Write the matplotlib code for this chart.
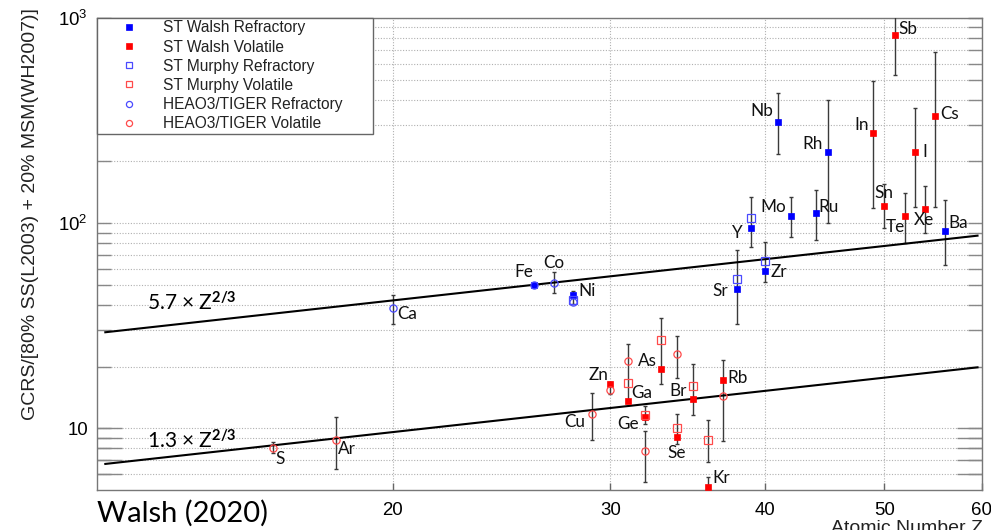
import numpy as np
import matplotlib
matplotlib.use('Agg')
import matplotlib.pyplot as plt
from matplotlib.lines import Line2D
from matplotlib.ticker import FixedLocator, FixedFormatter, NullLocator, NullFormatter

plt.rcParams['font.family'] = ['Liberation Sans', 'DejaVu Sans']
plt.rcParams['mathtext.fontset'] = 'custom'
plt.rcParams['mathtext.rm'] = 'Liberation Sans'
plt.rcParams['mathtext.it'] = 'Liberation Sans:italic'
plt.rcParams['mathtext.bf'] = 'Lato:bold'

nan = np.nan

# ---------------- data ----------------
walsh_ref_Z = [26, 28, 38, 39, 40, 41, 42, 44, 45, 56]
walsh_ref_val = [49.8, 44.5, 47.5, 94.2, 58.5, 312, 108, 111.5, 223, 91.4]
walsh_ref_lo = [nan, 40.5, 32.1, 76.6, nan, 217, 85.7, 82.6, 99.7, 62.4]
walsh_ref_hi = [nan, 46.5, 73.8, 134.4, nan, 430, 134.4, 145, 399, 129.5]

walsh_vol_Z = [30, 31, 32, 33, 34, 35, 36, 37, 49, 50, 51, 52, 53, 54, 55]
walsh_vol_val = [16.5, 13.55, 11.3, 19.35, 9.04, 13.9, 5.2, 17.1, 274, 121.5, 829, 108.2, 221.5, 117, 334]
walsh_vol_lo = [14.7, nan, 10.5, nan, 8.39, nan, 4.9, nan, 118, 94.8, 528, 80.1, 120, 89.1, 119.3]
walsh_vol_hi = [16.8, nan, 12.9, nan, 11.8, nan, 5.8, nan, 494, 154.5, 1400, 140.6, 363, 151.6, 682]

murphy_ref_Z = [28, 38, 39, 40]
murphy_ref_val = [42.0, 53.7, 105.4, 65.2]
murphy_ref_lo = [nan, nan, nan, 51.7]
murphy_ref_hi = [nan, nan, nan, 81.0]

murphy_vol_Z = [31, 32, 33, 34, 35, 36]
murphy_vol_val = [16.6, 11.6, 27.0, 10.0, 16.0, 8.8]
murphy_vol_lo = [nan, nan, 16.5, nan, 11.6, 6.88]
murphy_vol_hi = [nan, nan, 34.6, nan, 20.6, 11.0]

heao_ref_Z = [20, 26, 27, 28]
heao_ref_val = [38.6, 49.8, 51.1, 41.4]
heao_ref_lo = [32.4, nan, 45.4, nan]
heao_ref_hi = [44.5, nan, 57.8, nan]

heao_vol_Z = [16, 18, 29, 30, 31, 32, 34, 37]
heao_vol_val = [7.98, 8.8, 11.76, 15.3, 21.2, 7.78, 23.1, 14.3]
heao_vol_lo = [7.6, 6.33, 8.78, nan, 13.4, 5.45, 17.5, 8.7]
heao_vol_hi = [8.55, 11.3, 14.9, nan, 25.8, 9.74, 28.05, 21.4]

label_names = ['S', 'Ar', 'Ca', 'Fe', 'Co', 'Ni', 'Cu', 'Zn', 'Ga', 'Ge', 'As', 'Se', 'Br', 'Kr', 'Rb',
               'Sr', 'Y', 'Zr', 'Nb', 'Mo', 'Ru', 'Rh', 'In', 'Sn', 'Sb', 'Te', 'I', 'Xe', 'Cs', 'Ba']
label_Z = [16, 18, 20, 26, 27, 28, 29, 30, 31, 32, 33, 34, 35, 36, 37,
           38, 39, 40, 41, 42, 44, 45, 49, 50, 51, 52, 53, 54, 55, 56]
label_val = [7.98, 8.8, 38.6, 49.8, 51.1, 44.5, 11.76, 16.5, 13.55, 11.3, 19.35, 9.04, 13.9, 5.2, 17.1,
             47.5, 94.2, 58.5, 312, 108, 111.5, 223, 274, 121.5, 829, 108.2, 221.5, 117, 334, 91.4]

fit_coeffs = [5.7, 1.3]
fit_labels = [r'5.7 × Z$^{\mathbf{2/3}}$', r'1.3 × Z$^{\mathbf{2/3}}$']
fit_Z_range = [11.7, 59.5]

legend_labels = ['ST Walsh Refractory', 'ST Walsh Volatile', 'ST Murphy Refractory',
                 'ST Murphy Volatile', 'HEAO3/TIGER Refractory', 'HEAO3/TIGER Volatile']

x_ticks = [20, 30, 40, 50, 60]
y_major = [10, 100, 1000]
y_major_labels = ['10', r'$10^{2}$', r'$10^{3}$']
y_minor = [6, 7, 8, 9, 20, 30, 40, 50, 60, 70, 80, 90, 200, 300, 400, 500, 600, 700, 800, 900]

# ---------------- style ----------------
BLUE = '#0000ff'
RED = '#ff0000'
BLUE_O = '#4a4aff'
RED_O = '#ff4a4a'

label_offsets = {  # (dx px, dy px, ha)
    'S': (2, -10.6, 'left'), 'Ar': (1.6, -9.3, 'left'), 'Ca': (4, -6, 'left'),
    'Fe': (-10, 13, 'center'), 'Co': (0, 20, 'center'), 'Ni': (5, 4, 'left'),
    'Cu': (-7, -8.4, 'right'), 'Zn': (-12, 9, 'center'), 'Ga': (3, 8, 'left'),
    'Ge': (-6, -6.6, 'right'), 'As': (-5, 8, 'right'), 'Se': (-1, -15.6, 'center'),
    'Br': (-6.5, 7.6, 'right'), 'Kr': (4, 8.4, 'left'), 'Rb': (4.7, 2.7, 'left'),
    'Sr': (-9, -2, 'right'), 'Y': (-8.6, -5, 'right'), 'Zr': (6, -1, 'left'),
    'Nb': (-5, 11, 'right'), 'Mo': (-17, 9, 'center'), 'Ru': (3, 6, 'left'),
    'Rh': (-5, 8, 'right'), 'In': (-5, 8, 'right'), 'Sn': (0, 13, 'center'),
    'Sb': (4, 5.7, 'left'), 'Te': (-10, -11, 'center'), 'I': (7, 0.6, 'left'),
    'Xe': (-1.5, -11, 'center'), 'Cs': (4.5, 1.4, 'left'), 'Ba': (3, 8, 'left'),
}

fig = plt.figure(figsize=(9.91, 5.30), dpi=100)
ax = fig.add_axes([97 / 991, 1 - 490 / 530, 885 / 991, 472 / 530])
ax.set_xscale('log')
ax.set_yscale('log')
ax.set_xlim(11.52, 60)
ax.set_ylim(5, 1000)

series = [
    (walsh_ref_Z, walsh_ref_val, walsh_ref_lo, walsh_ref_hi, dict(marker='s', ms=4.4, mfc=BLUE, mec=BLUE, mew=0.5)),
    (walsh_vol_Z, walsh_vol_val, walsh_vol_lo, walsh_vol_hi, dict(marker='s', ms=4.4, mfc=RED, mec=RED, mew=0.5)),
    (murphy_ref_Z, murphy_ref_val, murphy_ref_lo, murphy_ref_hi, dict(marker='s', ms=5.2, mfc='none', mec=BLUE_O, mew=0.9)),
    (murphy_vol_Z, murphy_vol_val, murphy_vol_lo, murphy_vol_hi, dict(marker='s', ms=5.2, mfc='none', mec=RED_O, mew=0.9)),
    (heao_ref_Z, heao_ref_val, heao_ref_lo, heao_ref_hi, dict(marker='o', ms=5.2, mfc='none', mec=BLUE_O, mew=0.9)),
    (heao_vol_Z, heao_vol_val, heao_vol_lo, heao_vol_hi, dict(marker='o', ms=5.2, mfc='none', mec=RED_O, mew=0.9)),
]

# error bars first
for Z, v, lo, hi, st in series:
    Z = np.asarray(Z, float); v = np.asarray(v, float)
    lo = np.asarray(lo, float); hi = np.asarray(hi, float)
    m = np.isfinite(lo) & np.isfinite(hi)
    if m.any():
        ax.errorbar(Z[m], v[m], yerr=[v[m] - lo[m], hi[m] - v[m]], fmt='none',
                    ecolor='#3a3a3a', elinewidth=1.0, capsize=1.3, capthick=1.0, zorder=3)

# fit lines
zz = np.geomspace(fit_Z_range[0], fit_Z_range[1], 200)
for c in fit_coeffs:
    ax.plot(zz, c * zz ** (2.0 / 3.0), color='black', lw=1.5, zorder=4)

handles = []
for Z, v, lo, hi, st in series:
    ax.plot(Z, v, ls='none', zorder=5, **st)
    leg_st = dict(st)
    leg_st['ms'] = st['ms'] * 0.85
    handles.append(Line2D([], [], ls='none', **leg_st))

# element labels
for name, z, val in zip(label_names, label_Z, label_val):
    dx, dy, ha = label_offsets[name]
    ax.annotate(name, (z, val), xytext=(dx, dy), textcoords='offset pixels',
                ha=ha, va='center', fontsize=12.3, family='Lato', color='#111111', zorder=6)

# fit annotations
ax.text(50 / 885, (490 - 309.5) / 472, fit_labels[0], transform=ax.transAxes,
        fontsize=15, family='Lato', color='black', va='baseline', ha='left', zorder=6)
ax.text(50 / 885, (490 - 448) / 472, fit_labels[1], transform=ax.transAxes,
        fontsize=15, family='Lato', color='black', va='baseline', ha='left', zorder=6)

# ticks / grid
ax.xaxis.set_major_locator(FixedLocator(x_ticks))
ax.xaxis.set_major_formatter(FixedFormatter([str(t) for t in x_ticks]))
ax.xaxis.set_minor_locator(NullLocator())
ax.xaxis.set_minor_formatter(NullFormatter())
ax.yaxis.set_major_locator(FixedLocator(y_major))
ax.yaxis.set_major_formatter(FixedFormatter(y_major_labels))
ax.yaxis.set_minor_locator(FixedLocator(y_minor))
ax.yaxis.set_minor_formatter(NullFormatter())

ax.tick_params(axis='x', which='major', direction='in', length=5, width=1, color='#666666',
               top=False, bottom=True, labelsize=13.4, pad=8.3)
ax.tick_params(axis='y', which='both', direction='in', length=10, width=1, color='#888888',
               left=True, right=True, labelsize=13.4, pad=6.5)

# long ticks in the lowest partial decade
long_ticks = [t for t in y_minor if t < 10] + [10]
L = 25 / 885
ax.hlines(long_ticks, 0, L, transform=ax.get_yaxis_transform(), color='#888888', lw=1, zorder=2)
ax.hlines(long_ticks, 1 - L, 1, transform=ax.get_yaxis_transform(), color='#888888', lw=1, zorder=2)

ax.grid(True, axis='y', which='both', linestyle=(0, (1, 1.5)), color='#b0b0b0', lw=0.8, zorder=0)
ax.grid(True, axis='x', which='major', linestyle=(0, (1, 1.5)), color='#b0b0b0', lw=0.8, zorder=0)
ax.set_axisbelow(True)

for s in ax.spines.values():
    s.set_color('#777777')
    s.set_linewidth(1.0)

# legend
leg = ax.legend(handles, legend_labels, loc='upper left', bbox_to_anchor=(0, 0, 276 / 885, 1),
                mode='expand', borderaxespad=0, frameon=True, fancybox=False, framealpha=1,
                edgecolor='#666666', fontsize=11.2, handlelength=3.86, handletextpad=0.24,
                labelspacing=0.27, borderpad=0.15, numpoints=1)
leg.get_frame().set_linewidth(1.0)
leg.set_zorder(10)
for t in leg.get_texts():
    t.set_color('#222222')

# axis titles
fig.text(30.5 / 991, 1 - 214 / 530, 'GCRS/[80% SS(L2003) + 20% MSM(WH2007)]', rotation=90,
         ha='center', va='center', fontsize=14, color='#222222')
fig.text(983 / 991, 1 - 520 / 530, 'Atomic Number Z', ha='right', va='top', fontsize=14, color='#222222')
fig.text(97 / 991, 1 - 522 / 530, 'Walsh (2020)', ha='left', va='baseline', fontsize=21,
         family='Lato', color='black')

fig.savefig('out.png', dpi=100)
